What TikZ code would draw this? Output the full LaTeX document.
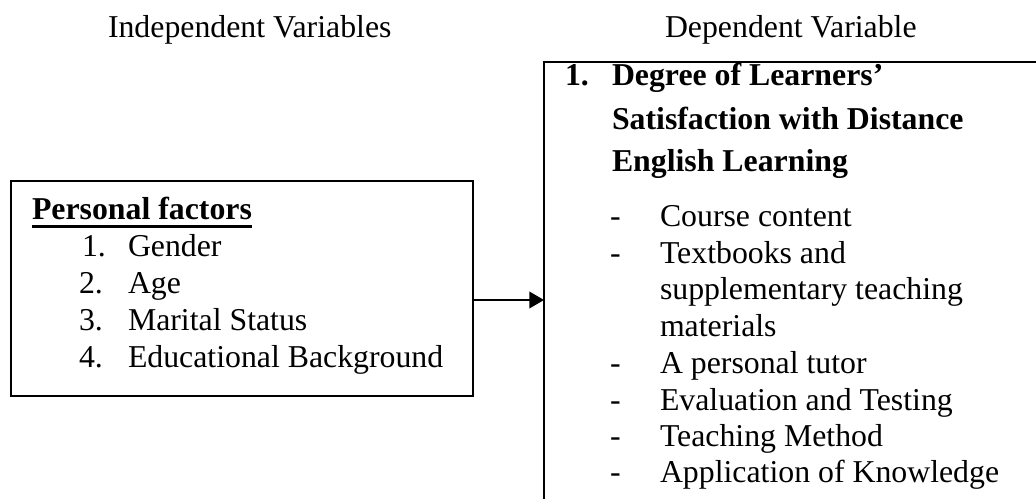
\documentclass[tikz,border=0pt]{standalone}
\usepackage{fontspec}
\setmainfont{Liberation Serif}
\usetikzlibrary{arrows.meta,calc}
\begin{document}
\begin{tikzpicture}[x=0.75pt,y=-0.75pt,
  boxstyle/.style={draw=black, line width=1.1pt, outer sep=0pt, inner sep=0pt, anchor=north west},
  txt/.style={inner sep=0pt, outer sep=0pt, anchor=base west, font=\fontsize{23.85}{28}\selectfont},
  btxt/.style={txt, font=\fontsize{23.85}{28}\selectfont\bfseries},
  conn/.style={line width=1.3pt, -{Triangle[length=11pt,width=12.5pt]}}]
\useasboundingbox (0,0) rectangle (1036,499);
% headers
\node[txt] (hind) at (108,38) {Independent Variables};
\node[txt] (hdep) at (665,38) {Dependent Variable};
% left box
\node[boxstyle, minimum width=346.5pt, minimum height=161.25pt] (pers) at (11,181) {};
\node[btxt] (pf) at (32,220) {Personal factors};
\draw[line width=2pt] ($(pf.base west)+(0,6.5)$) -- ($(pf.base east)+(0,6.5)$);
\node[txt] (n1) at (82,257) {1.};
\node[txt] (i1) at (128,257) {Gender};
\node[txt] (n2) at (79,293) {2.};
\node[txt] (i2) at (128,293) {Age};
\node[txt] (n3) at (79,330) {3.};
\node[txt] (i3) at (128,330) {Marital Status};
\node[txt] (n4) at (79,367) {4.};
\node[txt] (i4) at (128,367) {Educational Background};
% right box (cut off at right and bottom)
\node[boxstyle, minimum width=380pt, minimum height=350pt] (dep) at (544,62) {};
\node[btxt] (dn) at (565,86) {1.};
\node[btxt] (d1) at (612,86) {Degree of Learners’};
\node[btxt] (d2) at (612,130) {Satisfaction with Distance};
\node[btxt] (d3) at (612,172) {English Learning};
\node[txt] (b1) at (610,227) {-};
\node[txt] (t1) at (660,227) {Course content};
\node[txt] (b2) at (610,264) {-};
\node[txt] (t2) at (660,264) {Textbooks and};
\node[txt] (t2b) at (660,300) {supplementary teaching};
\node[txt] (t2c) at (660,336) {materials};
\node[txt] (b3) at (610,373) {-};
\node[txt] (t3) at (660,373) {A personal tutor};
\node[txt] (b4) at (610,410) {-};
\node[txt] (t4) at (660,410) {Evaluation and Testing};
\node[txt] (b5) at (610,446) {-};
\node[txt] (t5) at (660,446) {Teaching Method};
\node[txt] (b6) at (610,482) {-};
\node[txt] (t6) at (660,482) {Application of Knowledge};
% connector
\coordinate (ay) at (0,300);
\draw[conn] (pers.east |- ay) -- (dep.west |- ay);
\end{tikzpicture}
\end{document}
